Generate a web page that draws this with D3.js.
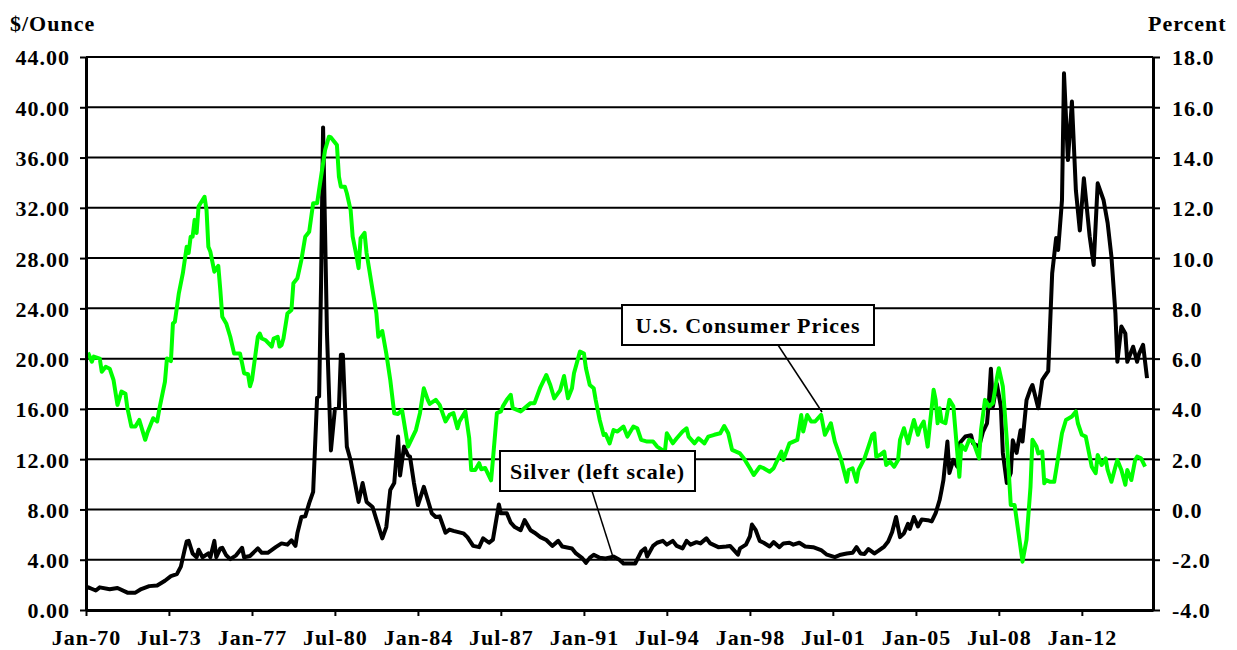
<!DOCTYPE html>
<html>
<head>
<meta charset="utf-8">
<script src="https://cdn.jsdelivr.net/npm/d3@7"></script>
<style>
  body { margin: 0; background: #fff; }
  text {
    font-family: "Liberation Serif", "Times New Roman", serif;
    font-weight: bold;
    font-size: 22px;
    letter-spacing: 1px;
    fill: #000;
  }
</style>
</head>
<body>
<svg id="chart" width="1237" height="650"></svg>
<script>
// axis labels
const tickLabels = ["Jan-70", "Jul-73", "Jan-77", "Jul-80", "Jan-84", "Jul-87", "Jan-91",
  "Jul-94", "Jan-98", "Jul-01", "Jan-05", "Jul-08", "Jan-12"];
const leftTicks = [0, 4, 8, 12, 16, 20, 24, 28, 32, 36, 40, 44];
const rightTicks = [-4, -2, 0, 2, 4, 6, 8, 10, 12, 14, 16, 18];

// silver, $/ounce (left scale); months counted from Jan-1970
const silverMonths = [0, 2, 5, 7, 12, 16, 21, 25, 28, 32, 36, 40, 43, 46, 48, 50, 51, 52, 54, 56,
  57, 59, 62, 63, 65, 66, 68, 69, 71, 73, 76, 79, 80, 83, 87, 89, 92, 96, 99, 102,
  104, 106, 107, 109, 111, 113, 115, 117, 118, 119, 120, 121, 122, 124, 126, 128, 129, 130, 131, 132,
  134, 138, 140, 142, 145, 147, 150, 152, 154, 156, 158, 159, 161, 163, 164, 166, 168, 171, 173, 175,
  177, 179, 182, 184, 186, 191, 193, 196, 199, 201, 204, 206, 209, 210, 213, 215, 217, 220, 222, 225,
  227, 230, 233, 236, 239, 241, 246, 248, 251, 253, 255, 257, 260, 263, 267, 270, 272, 278, 281, 283,
  284, 287, 289, 292, 294, 297, 299, 302, 304, 306, 309, 311, 314, 316, 320, 324, 326, 330, 331, 334,
  336, 337, 339, 341, 343, 346, 348, 351, 353, 356, 358, 361, 364, 368, 372, 375, 379, 382, 385, 388,
  390, 392, 394, 396, 399, 401, 404, 406, 408, 410, 412, 414, 416, 417, 419, 421, 423, 426, 428, 430,
  432, 433, 434, 436, 437, 439, 441, 442, 445, 448, 449, 452, 454, 456, 457, 458, 459, 461, 463, 464,
  466, 468, 469, 471, 473, 474, 476, 478, 479, 482, 484, 485, 487, 489, 491, 492, 494, 495, 497, 499,
  501, 503, 505, 508, 510, 512, 515, 517, 519, 521, 522, 524, 526, 527, 530, 532, 533, 535, 536, 537];
const silverPrice = [1.85, 1.75, 1.55, 1.8, 1.65, 1.75, 1.38, 1.38, 1.67, 1.9, 1.95, 2.33, 2.7, 2.85, 3.45, 4.8, 5.45, 5.5, 4.5, 4.2,
  4.8, 4.2, 4.5, 4.2, 5.5, 4.2, 4.9, 4.95, 4.35, 4.05, 4.35, 4.95, 4.2, 4.3, 4.9, 4.55, 4.55, 5.0, 5.3, 5.2,
  5.55, 5.1, 6.1, 7.4, 7.45, 8.5, 9.4, 16.9, 17.0, 26, 38.4, 30, 22, 12.7, 16.0, 16.1, 20.3, 20.3, 16.5, 13.0,
  11.9, 8.6, 10.1, 8.6, 8.2, 7.2, 5.7, 6.6, 9.55, 10.1, 13.8, 10.7, 13.0, 12.3, 12.2, 10.1, 8.35, 9.8, 8.75, 7.7,
  7.4, 7.45, 6.15, 6.4, 6.3, 6.1, 5.8, 5.1, 5.0, 5.7, 5.35, 5.6, 8.4, 7.7, 7.7, 6.95, 6.6, 6.35, 7.15, 6.35,
  6.15, 5.8, 5.57, 5.1, 5.5, 5.05, 4.9, 4.5, 4.15, 3.75, 4.15, 4.4, 4.15, 4.1, 4.25, 4.0, 3.7, 3.7, 4.65, 4.9,
  4.25, 5.1, 5.35, 5.5, 5.2, 5.5, 5.1, 4.9, 5.5, 5.2, 5.4, 5.3, 5.7, 5.3, 5.0, 5.05, 5.1, 4.4, 4.9, 5.2,
  5.85, 6.8, 6.35, 5.5, 5.35, 5.05, 5.4, 5.0, 5.3, 5.35, 5.2, 5.35, 5.05, 5.0, 4.77, 4.4, 4.2, 4.4, 4.5, 4.55,
  5.0, 4.5, 4.45, 4.85, 4.5, 4.7, 5.05, 5.45, 6.2, 7.4, 5.8, 6.1, 6.85, 6.45, 7.4, 6.65, 7.2, 7.15, 7.05, 7.7,
  8.75, 9.55, 10.35, 13.4, 10.9, 11.95, 11.4, 13.25, 13.8, 13.9, 13.25, 13.0, 14.2, 14.85, 16.7, 19.2, 16.2, 18.0, 16.2, 12.5,
  10.1, 10.9, 13.5, 12.5, 14.3, 13.4, 16.7, 17.6, 17.9, 16.05, 18.3, 18.55, 19.0, 26.8, 29.6, 28.65, 32.6, 42.7, 35.8, 40.45,
  33.4, 30.2, 34.35, 29.7, 27.45, 33.95, 32.6, 30.8, 28.1, 23.6, 19.75, 22.55, 22.0, 19.75, 20.95, 19.75, 20.4, 21.1, 19.75, 18.45];

// U.S. consumer prices, % change (right scale); months counted from Jan-1970
const cpiMonths = [1, 3, 4, 7, 8, 10, 12, 14, 16, 18, 20, 21, 23, 25, 27, 30, 31, 34, 36, 37,
  40, 41, 43, 44, 45, 47, 49, 51, 52, 53, 54, 55, 56, 57, 60, 61, 62, 63, 65, 67,
  68, 69, 71, 73, 75, 78, 79, 80, 82, 83, 84, 87, 88, 89, 91, 94, 95, 97, 98, 99,
  100, 102, 104, 105, 107, 109, 111, 113, 115, 117, 119, 121, 123, 124, 127, 128, 129, 131, 132, 134,
  135, 137, 138, 139, 141, 142, 145, 147, 148, 150, 152, 154, 156, 158, 160, 163, 165, 167, 169, 171,
  173, 174, 177, 179, 182, 184, 186, 188, 189, 192, 194, 195, 197, 199, 200, 202, 205, 206, 208, 210,
  211, 213, 215, 216, 220, 222, 225, 227, 230, 233, 235, 237, 240, 242, 244, 246, 247, 250, 252, 253,
  255, 257, 258, 260, 262, 263, 265, 267, 269, 272, 274, 277, 279, 281, 284, 287, 289, 293, 294, 297,
  299, 302, 304, 305, 308, 310, 313, 315, 318, 321, 323, 325, 327, 331, 333, 336, 338, 341, 343, 346,
  348, 350, 352, 353, 356, 358, 360, 362, 363, 365, 367, 369, 372, 374, 377, 379, 382, 385, 386, 388,
  390, 391, 394, 396, 398, 399, 400, 402, 404, 405, 407, 409, 411, 412, 414, 416, 417, 419, 421, 422,
  424, 426, 427, 429, 430, 431, 432, 433, 435, 437, 439, 442, 443, 445, 447, 449, 452, 453, 455, 457,
  459, 461, 462, 464, 466, 468, 470, 472, 474, 476, 478, 479, 481, 482, 484, 485, 486, 488, 490, 491,
  494, 496, 499, 501, 502, 504, 506, 507, 509, 511, 512, 514, 516, 517, 519, 521, 522, 524, 526, 527,
  529, 531, 532, 534, 536];
const cpiRate = [6.24, 5.88, 6.08, 6.0, 5.48, 5.68, 5.6, 5.15, 4.16, 4.69, 4.6, 4.03, 3.3, 3.3, 3.56, 2.77, 3.03, 3.63, 3.5, 3.96,
  5.08, 6.01, 5.9, 7.4, 7.47, 8.6, 9.4, 10.45, 10.2, 10.85, 10.85, 11.52, 11.0, 12.05, 12.44, 11.9, 10.45, 10.25, 9.46, 9.69,
  8.73, 7.67, 7.4, 6.87, 6.2, 6.2, 5.82, 5.42, 5.38, 4.9, 5.15, 6.87, 7.0, 6.8, 6.73, 6.48, 6.8, 6.87, 6.48, 6.54,
  6.8, 7.8, 7.94, 9.0, 9.2, 9.93, 10.85, 11.05, 12.18, 12.18, 13.24, 14.3, 14.83, 14.8, 14.5, 13.24, 12.84, 12.84, 12.58, 11.9,
  10.85, 10.06, 9.6, 10.79, 11.0, 10.2, 8.73, 7.8, 6.87, 7.1, 6.2, 5.15, 3.83, 3.8, 3.96, 2.5, 2.83, 3.16, 3.83, 4.82,
  4.36, 4.2, 4.36, 4.16, 3.5, 3.76, 3.83, 3.23, 3.5, 3.9, 2.83, 1.57, 1.57, 1.84, 1.6, 1.65, 1.16, 1.97, 3.83, 3.9,
  4.1, 4.36, 4.56, 4.03, 3.9, 4.03, 4.23, 4.23, 4.86, 5.35, 4.95, 4.42, 4.75, 5.31, 4.42, 4.82, 5.42, 6.28, 6.2, 5.62,
  4.95, 4.82, 4.36, 3.56, 2.96, 3.0, 2.63, 3.16, 3.1, 3.3, 2.9, 3.3, 3.23, 2.77, 2.7, 2.7, 2.5, 2.3, 3.03, 2.63,
  2.83, 3.1, 3.23, 2.9, 2.63, 2.83, 2.63, 2.9, 2.97, 3.03, 3.32, 3.03, 2.37, 2.23, 2.03, 1.64, 1.37, 1.7, 1.64, 1.5,
  1.64, 1.97, 2.3, 1.97, 2.63, 2.7, 2.77, 3.76, 3.1, 3.76, 3.5, 3.5, 3.76, 2.97, 3.43, 2.7, 2.03, 1.1, 1.57, 1.64,
  1.1, 1.57, 2.03, 2.5, 2.97, 3.03, 2.1, 2.17, 2.3, 1.77, 1.9, 1.7, 1.97, 2.77, 3.23, 2.63, 2.97, 3.56, 2.97, 3.23,
  3.5, 2.5, 3.3, 4.76, 4.36, 3.43, 4.03, 3.5, 3.43, 4.36, 4.1, 1.3, 2.56, 2.37, 2.77, 2.7, 2.03, 3.16, 4.36, 4.1,
  4.23, 5.22, 5.62, 4.89, 2.77, 0.18, 0.18, -0.95, -2.08, -1.2, 0.9, 2.77, 2.5, 2.23, 2.3, 1.04, 1.17, 1.1, 1.1, 1.57,
  3.03, 3.56, 3.7, 3.9, 3.43, 2.97, 2.9, 2.5, 1.7, 1.44, 2.17, 1.77, 2.03, 1.57, 1.1, 1.7, 1.97, 1.57, 0.98, 1.57,
  1.17, 1.97, 2.1, 2.03, 1.7];

const svg = d3.select("#chart");
const plotLeft = 86, plotRight = 1153, plotTop = 57, plotBottom = 610;

const start = new Date(1970, 0, 1);
const monthDate = m => d3.timeMonth.offset(start, m);
const parseTick = d3.timeParse("%b-%y");

const x = d3.scaleTime().domain([monthDate(0), monthDate(540)]).range([plotLeft, plotRight]);
const yLeft = d3.scaleLinear().domain([0, 44]).range([plotBottom, plotTop]);
const yRight = d3.scaleLinear().domain([-4, 18]).range([plotBottom, plotTop]);

// horizontal gridlines (one per left tick)
svg.append("g")
  .selectAll("line")
  .data(leftTicks.slice(1))
  .join("line")
  .attr("x1", plotLeft)
  .attr("x2", plotRight)
  .attr("y1", d => yLeft(d))
  .attr("y2", d => yLeft(d))
  .attr("stroke", "#000")
  .attr("stroke-width", 2);

// series lines
const silverLine = d3.line()
  .x(d => x(monthDate(d[0])))
  .y(d => yLeft(d[1]));
const cpiLine = d3.line()
  .x(d => x(monthDate(d[0])))
  .y(d => yRight(d[1]));

svg.append("path")
  .datum(d3.zip(silverMonths, silverPrice))
  .attr("d", silverLine)
  .attr("fill", "none")
  .attr("stroke", "#000")
  .attr("stroke-width", 4)
  .attr("stroke-linejoin", "round");

svg.append("path")
  .datum(d3.zip(cpiMonths, cpiRate))
  .attr("d", cpiLine)
  .attr("fill", "none")
  .attr("stroke", "#00ff00")
  .attr("stroke-width", 4)
  .attr("stroke-linejoin", "round");

// axes
const axLeft = svg.append("g")
  .attr("transform", `translate(${plotLeft},0)`)
  .call(d3.axisLeft(yLeft).tickValues(leftTicks).tickFormat(d => d.toFixed(2))
    .tickSize(6).tickSizeOuter(0).tickPadding(10));

const axRight = svg.append("g")
  .attr("transform", `translate(${plotRight},0)`)
  .call(d3.axisRight(yRight).tickValues(rightTicks).tickFormat(d => d.toFixed(1))
    .tickSize(7).tickSizeOuter(0).tickPadding(12));

const axBottom = svg.append("g")
  .attr("transform", `translate(0,${plotBottom})`)
  .call(d3.axisBottom(x).tickValues(tickLabels.map(parseTick)).tickFormat(d3.timeFormat("%b-%y"))
    .tickSize(6).tickSizeOuter(0).tickPadding(13));

[axLeft, axRight, axBottom].forEach(ax => {
  ax.select(".domain").attr("stroke-width", 3);
  ax.selectAll(".tick line").attr("stroke-width", 2);
});
axLeft.selectAll(".tick text").attr("dy", "0.36em");
axRight.selectAll(".tick text").attr("dy", "0.36em");

// unit titles
svg.append("text").attr("x", 10).attr("y", 31).text("$/Ounce");
svg.append("text").attr("x", 1148).attr("y", 31).text("Percent");

// callouts
function callout(bx, by, bw, bh, label, lx1, ly1, lx2, ly2) {
  svg.append("line")
    .attr("x1", lx1).attr("y1", ly1).attr("x2", lx2).attr("y2", ly2)
    .attr("stroke", "#000").attr("stroke-width", 1.5);
  svg.append("rect")
    .attr("x", bx).attr("y", by).attr("width", bw).attr("height", bh)
    .attr("fill", "#fff").attr("stroke", "#000").attr("stroke-width", 2);
  svg.append("text")
    .attr("x", bx + bw / 2).attr("y", by + bh / 2)
    .attr("dy", "0.36em")
    .attr("text-anchor", "middle")
    .text(label);
}
callout(622, 305, 252, 40, "U.S. Consumer Prices", 778, 345, 822, 412);
callout(500, 451, 195, 40, "Silver (left scale)", 592, 491, 613, 557);
</script>
</body>
</html>
